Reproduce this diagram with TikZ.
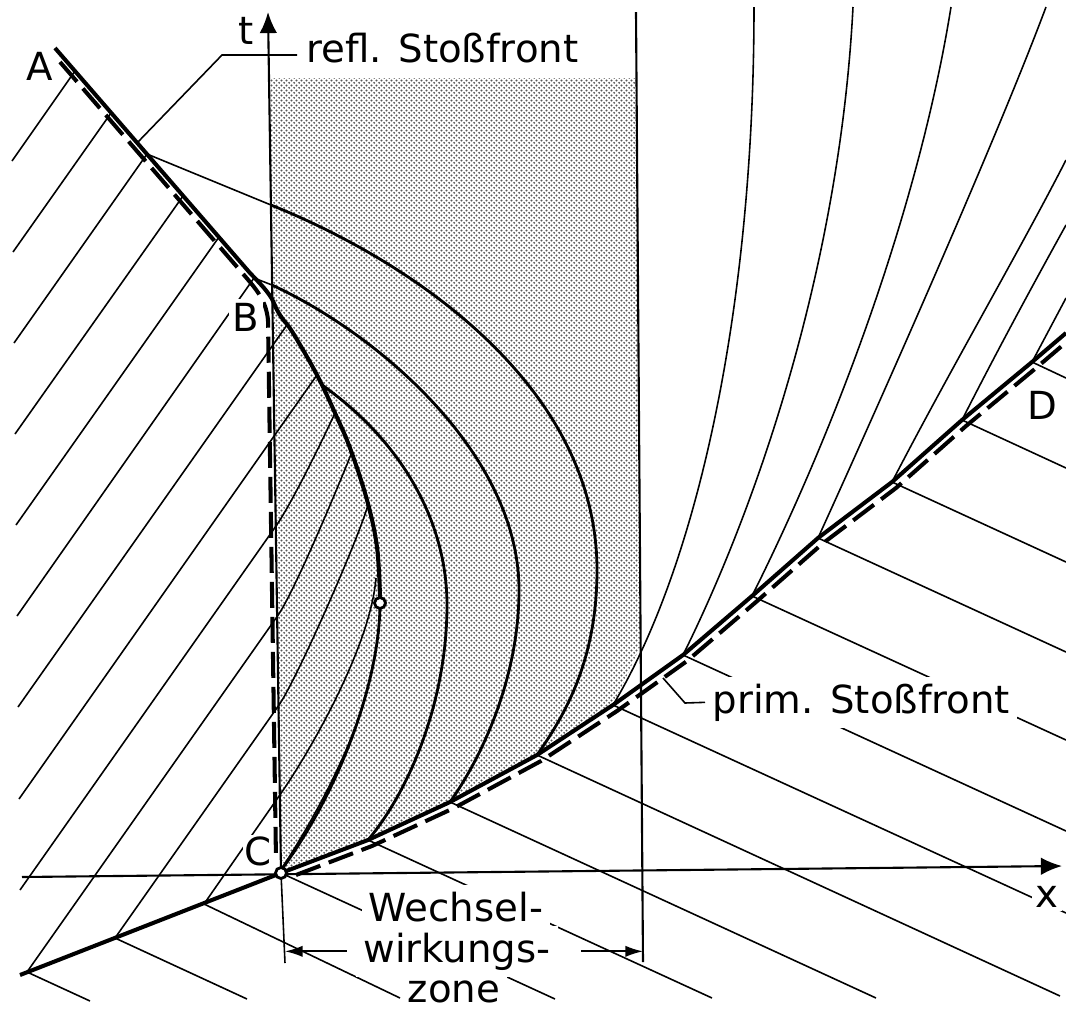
\documentclass[tikz,border=0pt]{standalone}
\usepackage{fontspec}
\setmainfont{DejaVu Sans}
\usetikzlibrary{arrows.meta,patterns.meta}

\tikzdeclarepattern{
  name=stipple,
  type=uncolored,
  bounding box={(0pt,0pt) and (1.5pt,1.5pt)},
  tile size={(1.5pt,1.5pt)},
  code={
    \fill (0.375pt,0.375pt) circle [radius=0.34pt];
    \fill (1.125pt,1.125pt) circle [radius=0.34pt];
  }
}

\begin{document}
\begin{tikzpicture}[
    x=0.01cm, y=-0.01cm,
    shock/.style={line width=1.15pt, line join=round},
    shockdash/.style={line width=1.15pt, dash pattern=on 0.26cm off 0.09cm},
    axisline/.style={line width=0.6pt, -{Latex[length=6pt,width=5pt]}},
    zoneline/.style={line width=0.6pt},
    charline/.style={line width=0.45pt},
    wave/.style={line width=0.8pt},
    lbl/.style={font=\fontsize{11}{11.5}\selectfont, inner sep=1pt},
    knock/.style={fill=white},
    dimarrow/.style={line width=0.5pt, -{Latex[length=5pt,width=3.2pt]}},
    ringpt/.style={circle, draw, fill=white, line width=0.8pt, inner sep=0pt, minimum size=0.11cm}
]
\useasboundingbox (0,0) rectangle (1066,1011);

% Key points
\coordinate (C) at (281,873);
\coordinate (Q) at (380,603);
\coordinate (ttip) at (268,12);
\coordinate (xtail) at (22,877);
\coordinate (xtip) at (1062,866);
\coordinate (zrtop) at (636,12);
\coordinate (zr) at (643,962);
\coordinate (zl) at (285,963);

% Interaction zone
\fill[pattern=stipple, pattern color=black!65] (269,78) -- (637,78) -- (641,645) -- (613,705) -- (537,755) -- (450,802) -- (368,840) -- (C) -- cycle;

% Axes and zone limits
\draw[axisline] (C) -- (ttip);
\draw[axisline] (xtail) -- (xtip);
\draw[zoneline] (zrtop) -- (zr);
\draw[charline] (C) -- (zl);

% Incoming characteristics (left)
\draw[charline] (12,161) -- (75,71);
\draw[charline] (13,252) -- (111,113);
\draw[charline] (14,343) -- (147,154);
\draw[charline] (15,434) -- (183,196);
\draw[charline] (16,525) -- (219,237);
\draw[charline] (17,616) -- (254,278);
\draw[charline] (18,707) -- (287,325);
\draw[charline] (19,799) -- (317,375);
\draw[charline] (20,890) -- (276,526) .. controls (292,503) and (324,437) .. (335,413);
\draw[charline] (27,972) -- (277.5,616) .. controls (294.5,592) and (340,482) .. (352,452);
\draw[charline] (115,938) -- (279,705) .. controls (297,679) and (358,540) .. (368,505);
\draw[charline] (204,904) -- (280.5,794) .. controls (305,759) and (370,650) .. (376,578);

% Characteristics below the shock
\draw[charline] (27,972) -- (90,1001);
\draw[charline] (115,938) -- (247,999);
\draw[charline] (204,904) -- (400,998);
\draw[charline] (C) -- (555,999);
\draw[charline] (368,840) -- (712,998);
\draw[charline] (450,802) -- (876,998);
\draw[charline] (537,755) -- (1060,996);
\draw[charline] (613,705) -- (1066,913);
\draw[charline] (683,655) -- (1066,831);
\draw[charline] (752,596) -- (1066,740);
\draw[charline] (818,538) -- (1066,652);
\draw[charline] (892,482) -- (1066,562);
\draw[charline] (962,420) -- (1066,468);
\draw[charline] (1032,362) -- (1066,378);

% Characteristics behind the primary shock
\draw[charline] (754,7) .. controls (754,300) and (700,560) .. (613,705);
\draw[charline] (853,7) .. controls (840,260) and (760,500) .. (683,655);
\draw[charline] (951,7) .. controls (920,200) and (840,420) .. (752,596);
\draw[charline] (1046,7) .. controls (1000,130) and (890,380) .. (818,538);
\draw[charline] (1066,160) .. controls (1020,250) and (950,370) .. (892,482);
\draw[charline] (1066,225) .. controls (1030,290) and (995,355) .. (962,420);
\draw[charline] (1066,298) -- (1032,362);

% Reflected characteristics in the zone
\draw[charline] (147,154) -- (271,205);
\draw[wave] (271,205) .. controls (420,265) and (597,390) .. (597,570) .. controls (597,660) and (565,715) .. (537,755);
\draw[charline] (254,278) -- (272,285);
\draw[wave] (272,285) .. controls (380,335) and (519,455) .. (519,590) .. controls (519,680) and (480,760) .. (450,802);
\draw[wave] (322,385) .. controls (400,440) and (447,520) .. (447,605) .. controls (447,700) and (410,790) .. (368,840);
\draw[wave] (Q) .. controls (380,680) and (340,790) .. (282,869);
\draw[charline] (368,687) .. controls (355,740) and (320,810) .. (282,868);

% Primary shock front
\draw[shock] (20,975) -- (C) -- (368,840) -- (450,802) -- (537,755) -- (613,705) -- (683,655) -- (752,596) -- (818,538) -- (892,482) -- (962,420) -- (1032,362) -- (1066,333);
\draw[shockdash, shift={(4,6)}] (292,869) -- (368,840) -- (450,802) -- (537,755) -- (613,705) -- (683,655) -- (752,596) -- (818,538) -- (892,482) -- (962,420) -- (1032,362) -- (1066,333);

% Reflected shock front
\draw[shock] (55,48) -- (250,273) plot[smooth, tension=0.6] coordinates {(250,273) (264,288) (272,299) (276,308) (282,318) (293,333) (317,375) (335,413) (350,448) (367,500) (377,547) (380,597)};
\draw[shockdash] (60,62) -- (244,275) .. controls (256,289) and (266,300) .. (268,320) -- (276,860);

% Labels
\node[lbl] (tlab) at (246,31) {t};
\node[lbl, knock] (xlab) at (1047,897) {x};
\node[lbl] (Alab) at (40,66) {A};
\node[lbl, knock] (Blab) at (246,317) {B};
\node[lbl, knock, inner sep=0.3pt] (Clab) at (258,851) {C};
\node[lbl] (Dlab) at (1042,405) {D};

\node[lbl, anchor=base west, inner sep=0pt] (refl) at (306,62) {refl. Stoßfront};
\coordinate (rtail) at (297,55);
\coordinate (rbend) at (222,55);
\coordinate (rfoot) at (137,143);
\draw[charline] (rtail) -- (rbend) -- (rfoot);

\node[lbl, knock, anchor=base west, inner sep=2pt] (prim) at (705,713) {prim. Stoßfront};
\coordinate (pbend) at (685,703);
\coordinate (pfoot) at (663,678);
\draw[charline] (prim.west) -- (pbend) -- (pfoot);

% Interaction zone width
\node[lbl, knock, anchor=base, inner sep=2pt] (wz1) at (456,921) {Wechsel-};
\node[lbl, knock, anchor=base, inner sep=2pt, outer sep=2.8pt] (wz2) at (457,962) {wirkungs-};
\node[lbl, knock, anchor=base, inner sep=2pt] (wz3) at (454,1002) {zone};
\draw[dimarrow] (wz2.west) -- (wz2.west -| zl);
\draw[dimarrow] ([xshift=0.14cm]wz2.east) -- (wz2.east -| zr);

% Points
\node[ringpt] (Cpt) at (C) {};
\node[ringpt] (Qpt) at (Q) {};

\end{tikzpicture}
\end{document}
